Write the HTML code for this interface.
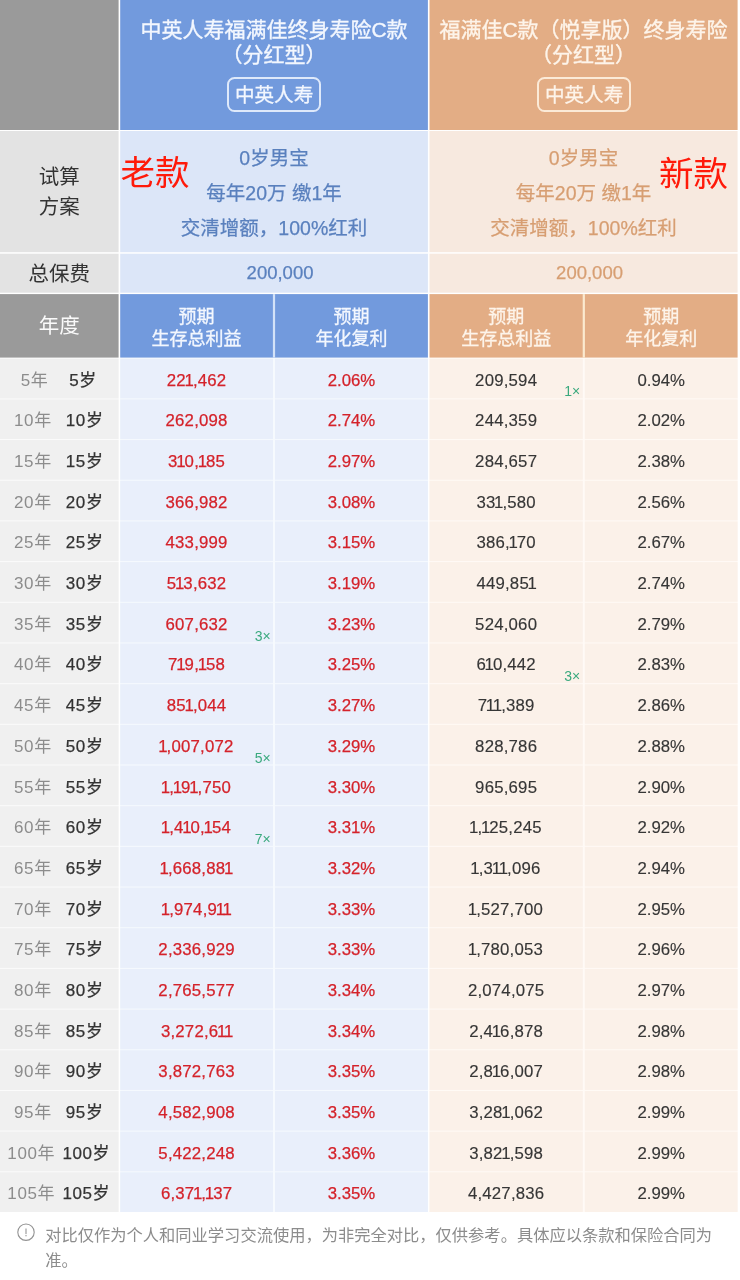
<!DOCTYPE html>
<html lang="zh-CN">
<head>
<meta charset="utf-8">
<title>中英人寿 福满佳 对比</title>
<style>
html,body{margin:0;padding:0;}
body{width:740px;height:1280px;background:#fff;position:relative;overflow:hidden;
 font-family:"Liberation Sans","Noto Sans CJK SC",sans-serif;}
#bg{position:absolute;left:0;top:0;}
#tx{position:absolute;left:0;top:0;width:740px;height:1280px;will-change:transform;}
.t{position:absolute;text-align:center;white-space:nowrap;}
.title{font-size:21px;line-height:24.5px;-webkit-text-stroke:0.35px;}
.wb{color:#f3f7fe;}
.wo{color:#fdf4ea;}
.badge{position:absolute;box-sizing:border-box;border:2px solid;border-radius:7.5px;
 font-size:19.6px;text-align:center;-webkit-text-stroke:0.3px;}
.badge.wb{border-color:rgba(240,246,255,.86);}
.badge.wo{border-color:rgba(255,243,228,.86);}
.plan{font-size:19.5px;line-height:34.7px;-webkit-text-stroke:0.25px;}
.blue{color:#5a80be;}
.orange{color:#d79e72;}
.lab{font-size:20.5px;color:#333;line-height:30.5px;}
.sub{font-size:18px;line-height:21.6px;-webkit-text-stroke:0.3px;}
.big{font-size:34.5px;color:#ff1a0a;line-height:40px;}
.r{font-size:16.8px;height:39.68px;line-height:39.68px;-webkit-text-stroke:0.25px;}
.nm{letter-spacing:0.2px;}
.nm i{font-style:normal;margin:0 -1.2px 0 -1.4px;}
.yc{position:absolute;left:0;width:117.6px;display:flex;justify-content:space-evenly;white-space:nowrap;font-size:17px;letter-spacing:0.6px;}
.yr{color:#8c8c8c;-webkit-text-stroke:0;}
.age{color:#333;}
.red{color:#d4222a;}
.dk{color:#363636;-webkit-text-stroke:0.15px;}
.mk{font-size:14px;color:#3aa97e;text-align:right;line-height:14px;height:14px;}
.foot{position:absolute;left:45.2px;top:1223px;width:682px;font-size:16.28px;line-height:24.5px;color:#8c8c8c;}
</style>
</head>
<body>

<svg id="bg" width="740" height="1280" viewBox="0 0 740 1280">
<rect x="0.00" y="0.00" width="118.60" height="130.00" fill="#9a9a9a"/>
<rect x="120.20" y="0.00" width="307.70" height="130.00" fill="#729add"/>
<rect x="429.50" y="0.00" width="308.10" height="130.00" fill="#e3ad85"/>
<rect x="0.00" y="131.00" width="118.60" height="121.20" fill="#e3e3e3"/>
<rect x="120.20" y="131.00" width="307.70" height="121.20" fill="#dce6f8"/>
<rect x="429.50" y="131.00" width="308.10" height="121.20" fill="#f7e9df"/>
<rect x="0.00" y="253.70" width="118.60" height="39.00" fill="#e3e3e3"/>
<rect x="120.20" y="253.70" width="307.70" height="39.00" fill="#dce6f8"/>
<rect x="429.50" y="253.70" width="308.10" height="39.00" fill="#f7e9df"/>
<rect x="0.00" y="294.10" width="118.60" height="63.50" fill="#9a9a9a"/>
<rect x="120.20" y="294.10" width="307.70" height="63.50" fill="#729add"/>
<rect x="429.50" y="294.10" width="308.10" height="63.50" fill="#e3ad85"/>
<rect x="272.90" y="294.10" width="2.20" height="63.50" fill="#d3e2f8"/>
<rect x="582.70" y="294.10" width="2.20" height="63.50" fill="#fbead0"/>
<rect x="0.00" y="358.20" width="118.60" height="853.80" fill="#fbfbfb"/>
<rect x="120.20" y="358.20" width="307.70" height="853.80" fill="#f6fafe"/>
<rect x="429.50" y="358.20" width="308.10" height="853.80" fill="#fffaf6"/>
<rect x="0.00" y="358.70" width="118.60" height="39.68" fill="#f0f0f0"/>
<rect x="120.20" y="358.70" width="152.80" height="39.68" fill="#e9effb"/>
<rect x="275.00" y="358.70" width="152.90" height="39.68" fill="#e9effb"/>
<rect x="429.50" y="358.70" width="153.30" height="39.68" fill="#fbf1e9"/>
<rect x="584.80" y="358.70" width="152.80" height="39.68" fill="#fbf1e9"/>
<rect x="0.00" y="399.38" width="118.60" height="39.68" fill="#f0f0f0"/>
<rect x="120.20" y="399.38" width="152.80" height="39.68" fill="#e9effb"/>
<rect x="275.00" y="399.38" width="152.90" height="39.68" fill="#e9effb"/>
<rect x="429.50" y="399.38" width="153.30" height="39.68" fill="#fbf1e9"/>
<rect x="584.80" y="399.38" width="152.80" height="39.68" fill="#fbf1e9"/>
<rect x="0.00" y="440.06" width="118.60" height="39.68" fill="#f0f0f0"/>
<rect x="120.20" y="440.06" width="152.80" height="39.68" fill="#e9effb"/>
<rect x="275.00" y="440.06" width="152.90" height="39.68" fill="#e9effb"/>
<rect x="429.50" y="440.06" width="153.30" height="39.68" fill="#fbf1e9"/>
<rect x="584.80" y="440.06" width="152.80" height="39.68" fill="#fbf1e9"/>
<rect x="0.00" y="480.74" width="118.60" height="39.68" fill="#f0f0f0"/>
<rect x="120.20" y="480.74" width="152.80" height="39.68" fill="#e9effb"/>
<rect x="275.00" y="480.74" width="152.90" height="39.68" fill="#e9effb"/>
<rect x="429.50" y="480.74" width="153.30" height="39.68" fill="#fbf1e9"/>
<rect x="584.80" y="480.74" width="152.80" height="39.68" fill="#fbf1e9"/>
<rect x="0.00" y="521.42" width="118.60" height="39.68" fill="#f0f0f0"/>
<rect x="120.20" y="521.42" width="152.80" height="39.68" fill="#e9effb"/>
<rect x="275.00" y="521.42" width="152.90" height="39.68" fill="#e9effb"/>
<rect x="429.50" y="521.42" width="153.30" height="39.68" fill="#fbf1e9"/>
<rect x="584.80" y="521.42" width="152.80" height="39.68" fill="#fbf1e9"/>
<rect x="0.00" y="562.10" width="118.60" height="39.68" fill="#f0f0f0"/>
<rect x="120.20" y="562.10" width="152.80" height="39.68" fill="#e9effb"/>
<rect x="275.00" y="562.10" width="152.90" height="39.68" fill="#e9effb"/>
<rect x="429.50" y="562.10" width="153.30" height="39.68" fill="#fbf1e9"/>
<rect x="584.80" y="562.10" width="152.80" height="39.68" fill="#fbf1e9"/>
<rect x="0.00" y="602.78" width="118.60" height="39.68" fill="#f0f0f0"/>
<rect x="120.20" y="602.78" width="152.80" height="39.68" fill="#e9effb"/>
<rect x="275.00" y="602.78" width="152.90" height="39.68" fill="#e9effb"/>
<rect x="429.50" y="602.78" width="153.30" height="39.68" fill="#fbf1e9"/>
<rect x="584.80" y="602.78" width="152.80" height="39.68" fill="#fbf1e9"/>
<rect x="0.00" y="643.46" width="118.60" height="39.68" fill="#f0f0f0"/>
<rect x="120.20" y="643.46" width="152.80" height="39.68" fill="#e9effb"/>
<rect x="275.00" y="643.46" width="152.90" height="39.68" fill="#e9effb"/>
<rect x="429.50" y="643.46" width="153.30" height="39.68" fill="#fbf1e9"/>
<rect x="584.80" y="643.46" width="152.80" height="39.68" fill="#fbf1e9"/>
<rect x="0.00" y="684.14" width="118.60" height="39.68" fill="#f0f0f0"/>
<rect x="120.20" y="684.14" width="152.80" height="39.68" fill="#e9effb"/>
<rect x="275.00" y="684.14" width="152.90" height="39.68" fill="#e9effb"/>
<rect x="429.50" y="684.14" width="153.30" height="39.68" fill="#fbf1e9"/>
<rect x="584.80" y="684.14" width="152.80" height="39.68" fill="#fbf1e9"/>
<rect x="0.00" y="724.82" width="118.60" height="39.68" fill="#f0f0f0"/>
<rect x="120.20" y="724.82" width="152.80" height="39.68" fill="#e9effb"/>
<rect x="275.00" y="724.82" width="152.90" height="39.68" fill="#e9effb"/>
<rect x="429.50" y="724.82" width="153.30" height="39.68" fill="#fbf1e9"/>
<rect x="584.80" y="724.82" width="152.80" height="39.68" fill="#fbf1e9"/>
<rect x="0.00" y="765.50" width="118.60" height="39.68" fill="#f0f0f0"/>
<rect x="120.20" y="765.50" width="152.80" height="39.68" fill="#e9effb"/>
<rect x="275.00" y="765.50" width="152.90" height="39.68" fill="#e9effb"/>
<rect x="429.50" y="765.50" width="153.30" height="39.68" fill="#fbf1e9"/>
<rect x="584.80" y="765.50" width="152.80" height="39.68" fill="#fbf1e9"/>
<rect x="0.00" y="806.18" width="118.60" height="39.68" fill="#f0f0f0"/>
<rect x="120.20" y="806.18" width="152.80" height="39.68" fill="#e9effb"/>
<rect x="275.00" y="806.18" width="152.90" height="39.68" fill="#e9effb"/>
<rect x="429.50" y="806.18" width="153.30" height="39.68" fill="#fbf1e9"/>
<rect x="584.80" y="806.18" width="152.80" height="39.68" fill="#fbf1e9"/>
<rect x="0.00" y="846.86" width="118.60" height="39.68" fill="#f0f0f0"/>
<rect x="120.20" y="846.86" width="152.80" height="39.68" fill="#e9effb"/>
<rect x="275.00" y="846.86" width="152.90" height="39.68" fill="#e9effb"/>
<rect x="429.50" y="846.86" width="153.30" height="39.68" fill="#fbf1e9"/>
<rect x="584.80" y="846.86" width="152.80" height="39.68" fill="#fbf1e9"/>
<rect x="0.00" y="887.54" width="118.60" height="39.68" fill="#f0f0f0"/>
<rect x="120.20" y="887.54" width="152.80" height="39.68" fill="#e9effb"/>
<rect x="275.00" y="887.54" width="152.90" height="39.68" fill="#e9effb"/>
<rect x="429.50" y="887.54" width="153.30" height="39.68" fill="#fbf1e9"/>
<rect x="584.80" y="887.54" width="152.80" height="39.68" fill="#fbf1e9"/>
<rect x="0.00" y="928.22" width="118.60" height="39.68" fill="#f0f0f0"/>
<rect x="120.20" y="928.22" width="152.80" height="39.68" fill="#e9effb"/>
<rect x="275.00" y="928.22" width="152.90" height="39.68" fill="#e9effb"/>
<rect x="429.50" y="928.22" width="153.30" height="39.68" fill="#fbf1e9"/>
<rect x="584.80" y="928.22" width="152.80" height="39.68" fill="#fbf1e9"/>
<rect x="0.00" y="968.90" width="118.60" height="39.68" fill="#f0f0f0"/>
<rect x="120.20" y="968.90" width="152.80" height="39.68" fill="#e9effb"/>
<rect x="275.00" y="968.90" width="152.90" height="39.68" fill="#e9effb"/>
<rect x="429.50" y="968.90" width="153.30" height="39.68" fill="#fbf1e9"/>
<rect x="584.80" y="968.90" width="152.80" height="39.68" fill="#fbf1e9"/>
<rect x="0.00" y="1009.58" width="118.60" height="39.68" fill="#f0f0f0"/>
<rect x="120.20" y="1009.58" width="152.80" height="39.68" fill="#e9effb"/>
<rect x="275.00" y="1009.58" width="152.90" height="39.68" fill="#e9effb"/>
<rect x="429.50" y="1009.58" width="153.30" height="39.68" fill="#fbf1e9"/>
<rect x="584.80" y="1009.58" width="152.80" height="39.68" fill="#fbf1e9"/>
<rect x="0.00" y="1050.26" width="118.60" height="39.68" fill="#f0f0f0"/>
<rect x="120.20" y="1050.26" width="152.80" height="39.68" fill="#e9effb"/>
<rect x="275.00" y="1050.26" width="152.90" height="39.68" fill="#e9effb"/>
<rect x="429.50" y="1050.26" width="153.30" height="39.68" fill="#fbf1e9"/>
<rect x="584.80" y="1050.26" width="152.80" height="39.68" fill="#fbf1e9"/>
<rect x="0.00" y="1090.94" width="118.60" height="39.68" fill="#f0f0f0"/>
<rect x="120.20" y="1090.94" width="152.80" height="39.68" fill="#e9effb"/>
<rect x="275.00" y="1090.94" width="152.90" height="39.68" fill="#e9effb"/>
<rect x="429.50" y="1090.94" width="153.30" height="39.68" fill="#fbf1e9"/>
<rect x="584.80" y="1090.94" width="152.80" height="39.68" fill="#fbf1e9"/>
<rect x="0.00" y="1131.62" width="118.60" height="39.68" fill="#f0f0f0"/>
<rect x="120.20" y="1131.62" width="152.80" height="39.68" fill="#e9effb"/>
<rect x="275.00" y="1131.62" width="152.90" height="39.68" fill="#e9effb"/>
<rect x="429.50" y="1131.62" width="153.30" height="39.68" fill="#fbf1e9"/>
<rect x="584.80" y="1131.62" width="152.80" height="39.68" fill="#fbf1e9"/>
<rect x="0.00" y="1172.30" width="118.60" height="39.68" fill="#f0f0f0"/>
<rect x="120.20" y="1172.30" width="152.80" height="39.68" fill="#e9effb"/>
<rect x="275.00" y="1172.30" width="152.90" height="39.68" fill="#e9effb"/>
<rect x="429.50" y="1172.30" width="153.30" height="39.68" fill="#fbf1e9"/>
<rect x="584.80" y="1172.30" width="152.80" height="39.68" fill="#fbf1e9"/>
</svg>
<div id="tx">
<div class="t title wb" style="left:120.2px;width:307.7px;top:18px;">中英人寿福满佳终身寿险C款<br>（分红型）</div>
<div class="t title wo" style="left:429.5px;width:308.1px;top:18px;">福满佳C款（悦享版）终身寿险<br>（分红型）</div>
<div class="badge wb" style="left:227.1px;top:76.7px;width:94px;height:35.7px;line-height:33px;">中英人寿</div>
<div class="badge wo" style="left:537.1px;top:76.7px;width:94px;height:35.7px;line-height:33px;">中英人寿</div>
<div class="t lab" style="left:0px;width:118.6px;top:161.8px;">试算<br>方案</div>
<div class="t plan blue" style="left:120.2px;width:307.7px;top:141.3px;">0岁男宝<br>每年20万 缴1年<br>交清增额，100%红利</div>
<div class="t plan orange" style="left:429.5px;width:308.1px;top:141.3px;">0岁男宝<br>每年20万 缴1年<br>交清增额，100%红利</div>
<div class="t big" style="left:120px;width:70.0px;top:152.6px;">老款</div>
<div class="t big" style="left:658.6px;width:70.0px;top:154.3px;">新款</div>
<div class="t lab" style="left:0px;width:118.6px;top:258.7px;">总保费</div>
<div class="t plan blue" style="left:132.2px;width:295.7px;top:256.3px;font-size:18.5px;">200,000</div>
<div class="t plan orange" style="left:441.5px;width:296.1px;top:256.3px;font-size:18.5px;">200,000</div>
<div class="t lab" style="left:0px;width:118.6px;top:311px;color:rgba(255,255,255,.95);">年度</div>
<div class="t sub wb" style="left:120.2px;width:152.8px;top:307.2px;">预期<br>生存总利益</div>
<div class="t sub wb" style="left:275.0px;width:152.9px;top:307.2px;">预期<br>年化复利</div>
<div class="t sub wo" style="left:429.5px;width:153.3px;top:307.2px;">预期<br>生存总利益</div>
<div class="t sub wo" style="left:584.8px;width:152.8px;top:307.2px;">预期<br>年化复利</div>
<div class="yc r" style="top:360.7px;"><span class="yr">5年</span><span class="age">5岁</span></div>
<div class="t r red nm" style="left:120.2px;width:152.8px;top:360.7px;">22<i>1</i>,462</div>
<div class="t r red" style="left:275.0px;width:152.9px;top:360.7px;">2.06%</div>
<div class="t r dk nm" style="left:429.5px;width:153.3px;top:360.7px;">209,594</div>
<div class="t r dk" style="left:584.8px;width:152.8px;top:360.7px;">0.94%</div>
<div class="t mk" style="left:540px;width:40.3px;top:384.48px;">1×</div>
<div class="yc r" style="top:401.38px;"><span class="yr">10年</span><span class="age">10岁</span></div>
<div class="t r red nm" style="left:120.2px;width:152.8px;top:401.38px;">262,098</div>
<div class="t r red" style="left:275.0px;width:152.9px;top:401.38px;">2.74%</div>
<div class="t r dk nm" style="left:429.5px;width:153.3px;top:401.38px;">244,359</div>
<div class="t r dk" style="left:584.8px;width:152.8px;top:401.38px;">2.02%</div>
<div class="yc r" style="top:442.06px;"><span class="yr">15年</span><span class="age">15岁</span></div>
<div class="t r red nm" style="left:120.2px;width:152.8px;top:442.06px;">3<i>1</i>0,<i>1</i>85</div>
<div class="t r red" style="left:275.0px;width:152.9px;top:442.06px;">2.97%</div>
<div class="t r dk nm" style="left:429.5px;width:153.3px;top:442.06px;">284,657</div>
<div class="t r dk" style="left:584.8px;width:152.8px;top:442.06px;">2.38%</div>
<div class="yc r" style="top:482.74px;"><span class="yr">20年</span><span class="age">20岁</span></div>
<div class="t r red nm" style="left:120.2px;width:152.8px;top:482.74px;">366,982</div>
<div class="t r red" style="left:275.0px;width:152.9px;top:482.74px;">3.08%</div>
<div class="t r dk nm" style="left:429.5px;width:153.3px;top:482.74px;">33<i>1</i>,580</div>
<div class="t r dk" style="left:584.8px;width:152.8px;top:482.74px;">2.56%</div>
<div class="yc r" style="top:523.42px;"><span class="yr">25年</span><span class="age">25岁</span></div>
<div class="t r red nm" style="left:120.2px;width:152.8px;top:523.42px;">433,999</div>
<div class="t r red" style="left:275.0px;width:152.9px;top:523.42px;">3.15%</div>
<div class="t r dk nm" style="left:429.5px;width:153.3px;top:523.42px;">386,<i>1</i>70</div>
<div class="t r dk" style="left:584.8px;width:152.8px;top:523.42px;">2.67%</div>
<div class="yc r" style="top:564.1px;"><span class="yr">30年</span><span class="age">30岁</span></div>
<div class="t r red nm" style="left:120.2px;width:152.8px;top:564.1px;">5<i>1</i>3,632</div>
<div class="t r red" style="left:275.0px;width:152.9px;top:564.1px;">3.19%</div>
<div class="t r dk nm" style="left:429.5px;width:153.3px;top:564.1px;">449,85<i>1</i></div>
<div class="t r dk" style="left:584.8px;width:152.8px;top:564.1px;">2.74%</div>
<div class="yc r" style="top:604.78px;"><span class="yr">35年</span><span class="age">35岁</span></div>
<div class="t r red nm" style="left:120.2px;width:152.8px;top:604.78px;">607,632</div>
<div class="t r red" style="left:275.0px;width:152.9px;top:604.78px;">3.23%</div>
<div class="t r dk nm" style="left:429.5px;width:153.3px;top:604.78px;">524,060</div>
<div class="t r dk" style="left:584.8px;width:152.8px;top:604.78px;">2.79%</div>
<div class="t mk" style="left:230px;width:40.6px;top:628.56px;">3×</div>
<div class="yc r" style="top:645.46px;"><span class="yr">40年</span><span class="age">40岁</span></div>
<div class="t r red nm" style="left:120.2px;width:152.8px;top:645.46px;">7<i>1</i>9,<i>1</i>58</div>
<div class="t r red" style="left:275.0px;width:152.9px;top:645.46px;">3.25%</div>
<div class="t r dk nm" style="left:429.5px;width:153.3px;top:645.46px;">6<i>1</i>0,442</div>
<div class="t r dk" style="left:584.8px;width:152.8px;top:645.46px;">2.83%</div>
<div class="t mk" style="left:540px;width:40.3px;top:669.24px;">3×</div>
<div class="yc r" style="top:686.14px;"><span class="yr">45年</span><span class="age">45岁</span></div>
<div class="t r red nm" style="left:120.2px;width:152.8px;top:686.14px;">85<i>1</i>,044</div>
<div class="t r red" style="left:275.0px;width:152.9px;top:686.14px;">3.27%</div>
<div class="t r dk nm" style="left:429.5px;width:153.3px;top:686.14px;">7<i>1</i><i>1</i>,389</div>
<div class="t r dk" style="left:584.8px;width:152.8px;top:686.14px;">2.86%</div>
<div class="yc r" style="top:726.82px;"><span class="yr">50年</span><span class="age">50岁</span></div>
<div class="t r red nm" style="left:120.2px;width:152.8px;top:726.82px;"><i>1</i>,007,072</div>
<div class="t r red" style="left:275.0px;width:152.9px;top:726.82px;">3.29%</div>
<div class="t r dk nm" style="left:429.5px;width:153.3px;top:726.82px;">828,786</div>
<div class="t r dk" style="left:584.8px;width:152.8px;top:726.82px;">2.88%</div>
<div class="t mk" style="left:230px;width:40.6px;top:750.6px;">5×</div>
<div class="yc r" style="top:767.5px;"><span class="yr">55年</span><span class="age">55岁</span></div>
<div class="t r red nm" style="left:120.2px;width:152.8px;top:767.5px;"><i>1</i>,<i>1</i>9<i>1</i>,750</div>
<div class="t r red" style="left:275.0px;width:152.9px;top:767.5px;">3.30%</div>
<div class="t r dk nm" style="left:429.5px;width:153.3px;top:767.5px;">965,695</div>
<div class="t r dk" style="left:584.8px;width:152.8px;top:767.5px;">2.90%</div>
<div class="yc r" style="top:808.18px;"><span class="yr">60年</span><span class="age">60岁</span></div>
<div class="t r red nm" style="left:120.2px;width:152.8px;top:808.18px;"><i>1</i>,4<i>1</i>0,<i>1</i>54</div>
<div class="t r red" style="left:275.0px;width:152.9px;top:808.18px;">3.31%</div>
<div class="t r dk nm" style="left:429.5px;width:153.3px;top:808.18px;"><i>1</i>,<i>1</i>25,245</div>
<div class="t r dk" style="left:584.8px;width:152.8px;top:808.18px;">2.92%</div>
<div class="t mk" style="left:230px;width:40.6px;top:831.96px;">7×</div>
<div class="yc r" style="top:848.86px;"><span class="yr">65年</span><span class="age">65岁</span></div>
<div class="t r red nm" style="left:120.2px;width:152.8px;top:848.86px;"><i>1</i>,668,88<i>1</i></div>
<div class="t r red" style="left:275.0px;width:152.9px;top:848.86px;">3.32%</div>
<div class="t r dk nm" style="left:429.5px;width:153.3px;top:848.86px;"><i>1</i>,3<i>1</i><i>1</i>,096</div>
<div class="t r dk" style="left:584.8px;width:152.8px;top:848.86px;">2.94%</div>
<div class="yc r" style="top:889.54px;"><span class="yr">70年</span><span class="age">70岁</span></div>
<div class="t r red nm" style="left:120.2px;width:152.8px;top:889.54px;"><i>1</i>,974,9<i>1</i><i>1</i></div>
<div class="t r red" style="left:275.0px;width:152.9px;top:889.54px;">3.33%</div>
<div class="t r dk nm" style="left:429.5px;width:153.3px;top:889.54px;"><i>1</i>,527,700</div>
<div class="t r dk" style="left:584.8px;width:152.8px;top:889.54px;">2.95%</div>
<div class="yc r" style="top:930.22px;"><span class="yr">75年</span><span class="age">75岁</span></div>
<div class="t r red nm" style="left:120.2px;width:152.8px;top:930.22px;">2,336,929</div>
<div class="t r red" style="left:275.0px;width:152.9px;top:930.22px;">3.33%</div>
<div class="t r dk nm" style="left:429.5px;width:153.3px;top:930.22px;"><i>1</i>,780,053</div>
<div class="t r dk" style="left:584.8px;width:152.8px;top:930.22px;">2.96%</div>
<div class="yc r" style="top:970.9px;"><span class="yr">80年</span><span class="age">80岁</span></div>
<div class="t r red nm" style="left:120.2px;width:152.8px;top:970.9px;">2,765,577</div>
<div class="t r red" style="left:275.0px;width:152.9px;top:970.9px;">3.34%</div>
<div class="t r dk nm" style="left:429.5px;width:153.3px;top:970.9px;">2,074,075</div>
<div class="t r dk" style="left:584.8px;width:152.8px;top:970.9px;">2.97%</div>
<div class="yc r" style="top:1011.58px;"><span class="yr">85年</span><span class="age">85岁</span></div>
<div class="t r red nm" style="left:120.2px;width:152.8px;top:1011.58px;">3,272,6<i>1</i><i>1</i></div>
<div class="t r red" style="left:275.0px;width:152.9px;top:1011.58px;">3.34%</div>
<div class="t r dk nm" style="left:429.5px;width:153.3px;top:1011.58px;">2,4<i>1</i>6,878</div>
<div class="t r dk" style="left:584.8px;width:152.8px;top:1011.58px;">2.98%</div>
<div class="yc r" style="top:1052.26px;"><span class="yr">90年</span><span class="age">90岁</span></div>
<div class="t r red nm" style="left:120.2px;width:152.8px;top:1052.26px;">3,872,763</div>
<div class="t r red" style="left:275.0px;width:152.9px;top:1052.26px;">3.35%</div>
<div class="t r dk nm" style="left:429.5px;width:153.3px;top:1052.26px;">2,8<i>1</i>6,007</div>
<div class="t r dk" style="left:584.8px;width:152.8px;top:1052.26px;">2.98%</div>
<div class="yc r" style="top:1092.94px;"><span class="yr">95年</span><span class="age">95岁</span></div>
<div class="t r red nm" style="left:120.2px;width:152.8px;top:1092.94px;">4,582,908</div>
<div class="t r red" style="left:275.0px;width:152.9px;top:1092.94px;">3.35%</div>
<div class="t r dk nm" style="left:429.5px;width:153.3px;top:1092.94px;">3,28<i>1</i>,062</div>
<div class="t r dk" style="left:584.8px;width:152.8px;top:1092.94px;">2.99%</div>
<div class="yc r" style="top:1133.62px;"><span class="yr">100年</span><span class="age">100岁</span></div>
<div class="t r red nm" style="left:120.2px;width:152.8px;top:1133.62px;">5,422,248</div>
<div class="t r red" style="left:275.0px;width:152.9px;top:1133.62px;">3.36%</div>
<div class="t r dk nm" style="left:429.5px;width:153.3px;top:1133.62px;">3,82<i>1</i>,598</div>
<div class="t r dk" style="left:584.8px;width:152.8px;top:1133.62px;">2.99%</div>
<div class="yc r" style="top:1174.3px;"><span class="yr">105年</span><span class="age">105岁</span></div>
<div class="t r red nm" style="left:120.2px;width:152.8px;top:1174.3px;">6,37<i>1</i>,<i>1</i>37</div>
<div class="t r red" style="left:275.0px;width:152.9px;top:1174.3px;">3.35%</div>
<div class="t r dk nm" style="left:429.5px;width:153.3px;top:1174.3px;">4,427,836</div>
<div class="t r dk" style="left:584.8px;width:152.8px;top:1174.3px;">2.99%</div>
<svg style="position:absolute;left:16px;top:1222px" width="20" height="20" viewBox="0 0 20 20"><circle cx="10" cy="10.2" r="8.2" fill="none" stroke="#929292" stroke-width="1.1"/><rect x="9.4" y="6.5" width="1.2" height="5.6" fill="#a0a0a0"/><rect x="9.4" y="13" width="1.2" height="1.3" fill="#a0a0a0"/></svg>
<div class="foot">对比仅作为个人和同业学习交流使用，为非完全对比，仅供参考。具体应以条款和保险合同为准。</div>
</div>
</body>
</html>
